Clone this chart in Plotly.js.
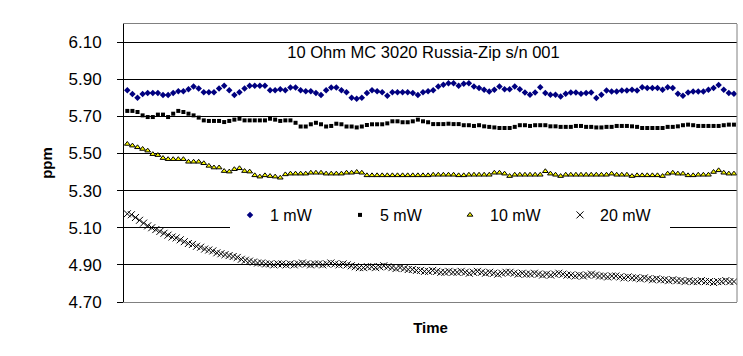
<!DOCTYPE html>
<html>
<head>
<meta charset="utf-8">
<script src="https://cdn.plot.ly/plotly-3.0.1.min.js"></script>
<style>html,body{margin:0;padding:0;background:#fff}#chart{width:743px;height:356px}</style>
</head>
<body>
<div id="chart"></div>
<script>
// ---- data ----
const seriesNames = ['1 mW', '5 mW', '10 mW', '20 mW'];
const yTickVals = [4.70, 4.90, 5.10, 5.30, 5.50, 5.70, 5.90, 6.10];

const mw1 = [
5.84,5.82,5.80,5.82,5.825,5.825,5.825,5.815,5.815,5.825,
5.835,5.835,5.845,5.86,5.85,5.83,5.83,5.83,5.85,5.865,
5.84,5.815,5.83,5.85,5.865,5.865,5.865,5.865,5.84,5.84,
5.845,5.84,5.855,5.855,5.84,5.835,5.835,5.825,5.815,5.84,
5.855,5.855,5.84,5.83,5.80,5.795,5.80,5.825,5.84,5.835,
5.83,5.81,5.83,5.83,5.83,5.83,5.825,5.815,5.83,5.835,
5.84,5.86,5.87,5.878,5.878,5.864,5.875,5.878,5.86,5.852,
5.843,5.834,5.843,5.86,5.846,5.846,5.86,5.846,5.828,5.816,
5.828,5.857,5.825,5.816,5.816,5.807,5.821,5.828,5.828,5.821,
5.825,5.828,5.798,5.816,5.839,5.834,5.834,5.839,5.839,5.843,
5.839,5.857,5.852,5.852,5.852,5.843,5.857,5.852,5.821,5.81,
5.828,5.834,5.834,5.834,5.843,5.852,5.869,5.843,5.825,5.821];

const mw5 = [
5.729,5.729,5.723,5.705,5.696,5.696,5.709,5.709,5.696,5.714,
5.729,5.723,5.714,5.705,5.693,5.678,5.675,5.675,5.675,5.669,
5.675,5.682,5.687,5.678,5.678,5.678,5.678,5.678,5.687,5.682,
5.675,5.678,5.678,5.665,5.645,5.645,5.657,5.665,5.657,5.645,
5.648,5.660,5.657,5.645,5.645,5.640,5.645,5.653,5.657,5.657,
5.657,5.662,5.673,5.673,5.668,5.668,5.673,5.682,5.673,5.668,
5.658,5.658,5.658,5.660,5.658,5.658,5.652,5.652,5.648,5.652,
5.646,5.643,5.640,5.637,5.637,5.637,5.643,5.652,5.652,5.648,
5.652,5.652,5.652,5.646,5.646,5.643,5.643,5.643,5.648,5.648,
5.643,5.643,5.640,5.640,5.643,5.643,5.648,5.648,5.648,5.646,
5.643,5.637,5.637,5.637,5.637,5.637,5.643,5.643,5.646,5.652,
5.655,5.652,5.648,5.648,5.648,5.648,5.648,5.652,5.655,5.655];

const mw10 = [
5.551,5.542,5.533,5.524,5.515,5.496,5.491,5.475,5.469,5.469,
5.469,5.469,5.455,5.455,5.455,5.447,5.433,5.424,5.424,5.405,
5.402,5.415,5.420,5.405,5.402,5.382,5.375,5.382,5.378,5.375,
5.369,5.387,5.391,5.391,5.391,5.391,5.396,5.396,5.396,5.391,
5.391,5.391,5.391,5.396,5.396,5.400,5.396,5.382,5.382,5.382,
5.382,5.382,5.382,5.382,5.382,5.382,5.382,5.382,5.382,5.382,
5.385,5.385,5.385,5.385,5.385,5.382,5.382,5.385,5.385,5.385,
5.385,5.385,5.396,5.396,5.391,5.378,5.385,5.385,5.385,5.385,
5.385,5.385,5.404,5.391,5.385,5.378,5.385,5.385,5.385,5.385,
5.385,5.385,5.385,5.385,5.385,5.391,5.385,5.385,5.385,5.378,
5.382,5.382,5.382,5.382,5.382,5.378,5.391,5.396,5.391,5.391,
5.382,5.382,5.385,5.385,5.385,5.400,5.409,5.396,5.391,5.391];

const mw20 = [
5.175,5.17,5.155,5.14,5.125,5.11,5.10,5.09,5.08,5.07,
5.06,5.05,5.045,5.035,5.025,5.015,5.01,5.00,4.995,4.985,
4.98,4.975,4.965,4.96,4.955,4.95,4.945,4.94,4.93,4.925,
4.92,4.915,4.91,4.91,4.905,4.905,4.90,4.905,4.905,4.90,
4.905,4.90,4.905,4.91,4.905,4.90,4.905,4.905,4.90,4.905,
4.91,4.905,4.90,4.905,4.90,4.895,4.89,4.885,4.885,4.89,
4.89,4.885,4.89,4.895,4.89,4.885,4.88,4.885,4.88,4.875,
4.875,4.87,4.87,4.865,4.865,4.87,4.865,4.86,4.86,4.865,
4.86,4.86,4.865,4.86,4.855,4.86,4.865,4.86,4.855,4.86,
4.855,4.85,4.855,4.86,4.86,4.855,4.85,4.855,4.85,4.85,
4.855,4.85,4.845,4.85,4.845,4.85,4.855,4.85,4.845,4.845,
4.84,4.845,4.84,4.845,4.85,4.845,4.84,4.84,4.835,4.84,
4.84,4.835,4.83,4.835,4.83,4.83,4.825,4.83,4.825,4.82,
4.825,4.82,4.82,4.815,4.82,4.815,4.815,4.81,4.815,4.81,
4.81,4.815,4.81,4.81,4.805,4.81,4.81,4.815,4.81,4.81];

// time bases: the 20 mW run was sampled more densely over the same time span
const t1 = mw1.map((_, i) => i);
const t20 = mw20.map((_, i) => i * (mw1.length - 1) / (mw20.length - 1));

const traces = [
  {x: t1, y: mw1, name: seriesNames[0], type: 'scatter', mode: 'markers',
   marker: {symbol: 'diamond', size: 5, color: '#000080'}},
  {x: t1, y: mw5, name: seriesNames[1], type: 'scatter', mode: 'markers',
   marker: {symbol: 'square', size: 4, color: '#000000'}},
  {x: t1, y: mw10, name: seriesNames[2], type: 'scatter', mode: 'markers',
   marker: {symbol: 'triangle-up', size: 5, color: '#ffff00', line: {color: '#000', width: 1}}},
  {x: t20, y: mw20, name: seriesNames[3], type: 'scatter', mode: 'markers',
   marker: {symbol: 'x-thin', size: 7, color: '#000', line: {color: '#000', width: 1}}}
];

const layout = {
  width: 743, height: 356,
  margin: {l: 124, r: 6, t: 24, b: 54, pad: 0},
  paper_bgcolor: '#ffffff', plot_bgcolor: '#ffffff',
  font: {family: 'Liberation Sans, Arial, sans-serif', color: '#000'},
  showlegend: true,
  title: {text: '10 Ohm MC 3020 Russia-Zip s/n 001', font: {size: 16.5, color: '#000'},
          x: 423.5 / 743, xanchor: 'center', y: 1 - 52 / 356, yanchor: 'middle'},
  xaxis: {range: [-0.65, 119.6], showgrid: false, zeroline: false, showticklabels: false,
          ticks: '', showline: true, linecolor: '#808080', linewidth: 1, mirror: true,
          title: {text: 'Time', font: {size: 15, weight: 'bold'}, standoff: 20}},
  yaxis: {range: [4.70, 6.197], tickvals: yTickVals, ticktext: yTickVals.map(v => v.toFixed(2)),
          ticks: 'outside', ticklen: 6, tickcolor: '#000', tickwidth: 1,
          showline: true, linecolor: '#000', linewidth: 1,
          showgrid: true, gridcolor: '#000', gridwidth: 1, zeroline: false,
          tickfont: {size: 17}, ticklabelstandoff: 12,
          title: {text: 'ppm', font: {size: 15, weight: 'bold'}, standoff: 12}},
  legend: {orientation: 'h', x: (230 - 124) / 613, xanchor: 'left', y: (302 - 215) / 278, yanchor: 'middle',
           bgcolor: '#ffffff', borderwidth: 0, font: {size: 16}, entrywidth: 65, entrywidthmode: 'pixels'},
  shapes: [{type: 'line', xref: 'paper', yref: 'paper', x0: 1, x1: 1, y0: 0, y1: 1,
            line: {color: '#808080', width: 1}}]
};

Plotly.newPlot('chart', traces, layout, {displayModeBar: false, staticPlot: true});
</script>
</body>
</html>
